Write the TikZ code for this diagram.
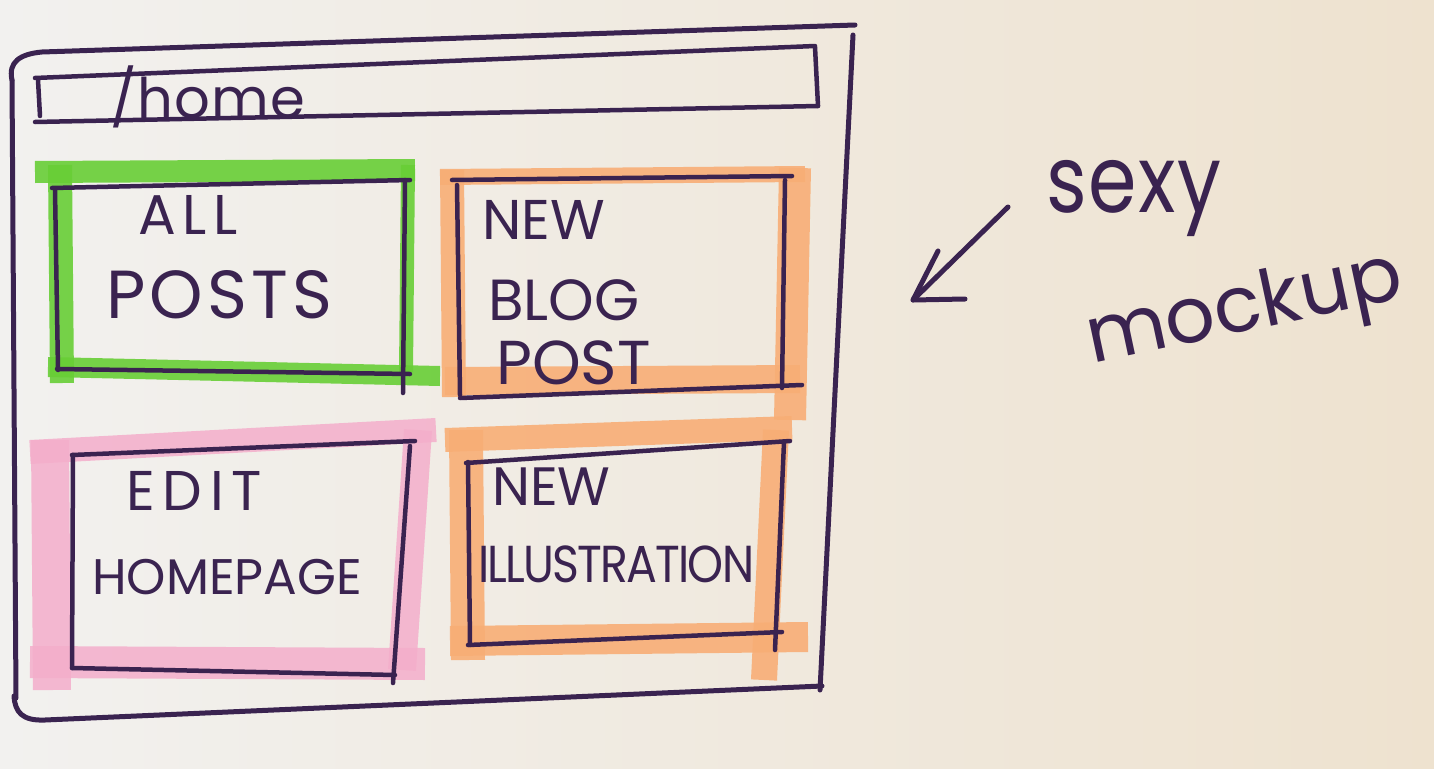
\documentclass[tikz,border=0pt]{standalone}
\usepackage{fontspec}
\setmainfont{Poppins}
\newcommand{\hand}[2]{\fontsize{#1}{#1}\selectfont\addfontfeatures{LetterSpace=#2}}
\begin{document}
\begin{tikzpicture}[x=1pt,y=-1pt,
  ink/.style={draw=inkc,line width=5pt,line cap=round,line join=round},
  inkthin/.style={draw=inkc,line width=4.5pt,line cap=round,line join=round},
  hlgreen/.style={draw=greenhl,line cap=butt,opacity=0.9},
  hlorange/.style={draw=orangehl,line cap=butt,opacity=0.9},
  hlpink/.style={draw=pinkhl,line cap=butt,opacity=0.85},
  label/.style={text=inkc,inner sep=0pt,anchor=base west}]
\definecolor{inkc}{HTML}{3A2350}
\definecolor{greenhl}{HTML}{68CE36}
\definecolor{orangehl}{HTML}{F8AE76}
\definecolor{pinkhl}{HTML}{F4AECB}
\definecolor{paperl}{HTML}{F2F1EF}
\definecolor{paperr}{HTML}{EEE2CF}
% paper
\shade[left color=paperl,right color=paperr] (0,0) rectangle (1434,768);
\useasboundingbox (0,0) rectangle (1434,768);

% marker highlights: all posts
\draw[hlgreen,line width=22pt] (35,172) -- (415,170);
\draw[hlgreen,line width=24pt] (60,165) -- (62,383);
\draw[hlgreen,line width=20pt] (48,367) -- (440,376);
\draw[hlgreen,line width=14pt] (408,165) -- (406,372);
% marker highlights: new blog post
\draw[hlorange,line width=16pt] (440,177) -- (805,174);
\draw[hlorange,line width=32pt] (795,168) -- (790,420);
\draw[hlorange,line width=28pt] (445,381) -- (800,379);
\draw[hlorange,line width=24pt] (452,170) -- (454,397);
% marker highlights: edit homepage
\draw[hlpink,line width=24pt] (30,452) -- (436,430);
\draw[hlpink,line width=38pt] (50,440) -- (52,690);
\draw[hlpink,line width=32pt] (30,662) -- (425,664);
\draw[hlpink,line width=28pt] (418,430) -- (402,670);
% marker highlights: new illustration
\draw[hlorange,line width=24pt] (445,440) -- (792,428);
\draw[hlorange,line width=34pt] (466,430) -- (468,660);
\draw[hlorange,line width=30pt] (450,641) -- (808,637);
\draw[hlorange,line width=26pt] (776,430) -- (764,680);

% browser window
\draw[ink] (12,80) .. controls (8,62) and (20,54) .. (42,52) -- (855,25);
\draw[ink] (853,35) -- (820,690);
\draw[ink] (822,686) -- (45,720) .. controls (22,721) and (15,712) .. (14,696);
\draw[ink] (12,80) -- (16,698);
% address bar
\draw[inkthin] (35,78) -- (815,46);
\draw[inkthin] (815,47) -- (818,106);
\draw[inkthin] (35,122) -- (818,106);
\draw[inkthin] (38,80) -- (40,116);
\node[label,font=\hand{56}{2}] (url) at (110,118) {/home};

% tiles
\draw[inkthin] (52,188) -- (410,180);
\draw[inkthin] (405,180) -- (403,393);
\draw[inkthin] (55,190) -- (58,370);
\draw[inkthin] (57,369) -- (410,374);
\node[label,font=\hand{56}{12}] (allposts1) at (138,234) {ALL};
\node[label,font=\hand{68}{6}] (allposts2) at (106,318) {POSTS};

\draw[inkthin] (452,180) -- (792,176);
\draw[inkthin] (785,180) -- (782,388);
\draw[inkthin] (457,185) -- (460,395);
\draw[inkthin] (460,398) -- (802,385);
\node[label,font=\hand{56}{0}] (blog1) at (482,239) {NEW};
\node[label,font=\hand{58}{0}] (blog2) at (488,320) {BLOG};
\node[label,font=\hand{62}{0}] (blog3) at (496,384) {POST};

\draw[inkthin] (72,455) -- (415,441);
\draw[inkthin] (410,446) -- (393,683);
\draw[inkthin] (73,455) -- (72,668);
\draw[inkthin] (72,668) -- (395,675);
\node[label,font=\hand{56}{14}] (edit1) at (126,510) {EDIT};
\node[label,font=\hand{50}{0}] (edit2) at (92,594) {HOMEPAGE};

\draw[inkthin] (466,463) -- (790,441);
\draw[inkthin] (784,442) -- (775,650);
\draw[inkthin] (468,462) -- (470,645);
\draw[inkthin] (468,645) -- (782,632);
\node[label,font=\hand{54}{0}] (illu1) at (492,505) {NEW};
\node[label,font=\hand{52}{-4},xscale=0.88] (illu2) at (478,582) {ILLUSTRATION};

% annotation
\coordinate (arrowtail) at (1008,207);
\coordinate (arrowtip) at (913,300);
\draw[ink] (arrowtail) -- (arrowtip);
\draw[ink] (938,251) -- (arrowtip) -- (965,299);
\node[label,font=\hand{78}{2},yscale=1.2] (sexy) at (1046,212) {sexy};
\node[label,font=\fontsize{78}{78}\selectfont,rotate=12] (mockup) at (1092,364) {mockup};
\end{tikzpicture}
\end{document}
